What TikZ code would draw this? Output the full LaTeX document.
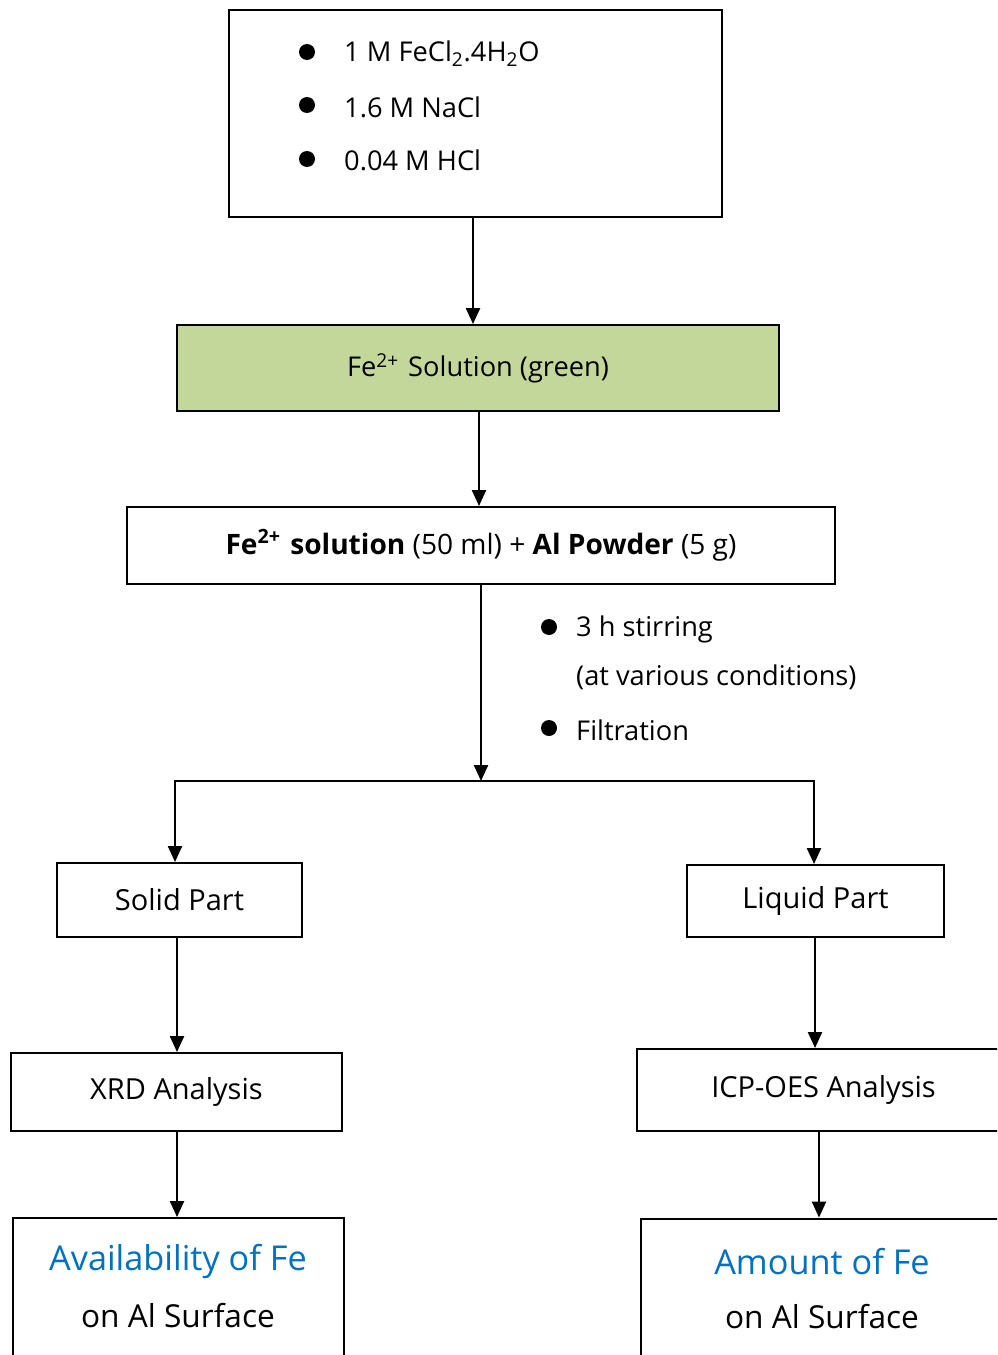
\documentclass[tikz,border=0pt]{standalone}
\usepackage{fontspec}
\setmainfont{Open Sans}
\usepackage{tikz}
\usetikzlibrary{arrows.meta}
\definecolor{solgreen}{RGB}{196,215,155}
\definecolor{resblue}{RGB}{0,112,192}
\tikzset{
  box/.style={draw, line width=1.1pt, inner sep=0pt},
  dot/.style={circle, fill, inner sep=0pt, minimum size=0.32cm},
  txt/.style={font=\fontsize{15.5}{18}\selectfont},
  lbl/.style={font=\fontsize{16.5}{19}\selectfont},
  res/.style={font=\fontsize{18}{22}\selectfont},
  resb/.style={font=\fontsize{19.5}{22}\selectfont, text=resblue},
  flow/.style={line width=1.3pt, -{Triangle[length=0.32cm,width=0.28cm]}},
}

\begin{document}
\begin{tikzpicture}[x=0.02cm,y=-0.02cm]
  \useasboundingbox (0,0) rectangle (997,1355);
  \clip (0,0) rectangle (997,1355);
  \node[box, minimum width=9.86cm, minimum height=4.14cm] (reag) at (475.5,113.5) {};
  \node[dot] (d1) at (307,52) {};
  \node[dot] (d2) at (307,105) {};
  \node[dot] (d3) at (307,159) {};
  \node[txt, anchor=west] (r1) at (338,54) {1 M FeCl\textsubscript{2}.4H\textsubscript{2}O};
  \node[txt, anchor=west] (r2) at (338,107) {1.6 M NaCl};
  \node[txt, anchor=west] (r3) at (338,160) {0.04 M HCl};
  \node[box, fill=solgreen, minimum width=12.04cm, minimum height=1.72cm, txt] (stock) at (478,368) {Fe\textsuperscript{2+}\,\,Solution (green)};
  \node[box, minimum width=14.16cm, minimum height=1.54cm, font=\fontsize{16}{19}\selectfont] (mixt) at (481,545.5) {\textbf{Fe\textsuperscript{2+}\,\,solution} (50 ml) + \textbf{Al Powder} (5 g)};
  \node[dot] (d4) at (549,627) {};
  \node[dot] (d5) at (549,728) {};
  \node[txt, anchor=west] (c1) at (570,629) {3 h stirring};
  \node[txt, anchor=west] (c2) at (570,677) {(at various conditions)};
  \node[txt, anchor=west] (c3) at (570,730) {Filtration};
  \coordinate (split) at (481,781);
  \coordinate (splitl) at (175,781);
  \coordinate (splitr) at (814,781);
  \node[box, minimum width=4.9cm, minimum height=1.48cm, lbl] (solid) at (179.5,900) {Solid Part};
  \node[box, minimum width=5.14cm, minimum height=1.44cm, lbl] (liquid) at (815.5,901) {Liquid Part};
  \node[box, minimum width=6.62cm, minimum height=1.56cm, lbl] (xrd) at (176.5,1092) {XRD Analysis};
  \node[box, minimum width=7.46cm, minimum height=1.64cm, lbl] (icp) at (823.5,1090) {ICP-OES Analysis};
  \node[box, minimum width=6.62cm, minimum height=4.04cm] (avail) at (178.5,1319) {};
  \node[box, minimum width=7.38cm, minimum height=4.04cm] (amount) at (825.5,1319.5) {};
  \node[resb] (avail1) at (178,1261) {Availability of Fe};
  \node[res] (avail2) at (178,1316) {on Al Surface};
  \node[resb] (amount1) at (822,1262) {Amount of Fe};
  \node[res] (amount2) at (822,1317) {on Al Surface};
  \draw[flow] (reag.south -| 473,0) -- (stock.north -| 473,0);
  \draw[flow] (stock.south -| 479,0) -- (mixt.north -| 479,0);
  \draw[flow] (mixt.south -| split) -- (split);
  \draw[flow, {Triangle[length=0.32cm,width=0.28cm]}-{Triangle[length=0.32cm,width=0.28cm]}] (splitl |- solid.north) -- (splitl) -- (splitr) -- (splitr |- liquid.north);
  \draw[flow] (solid.south -| 177,0) -- (xrd.north -| 177,0);
  \draw[flow] (liquid.south -| 815,0) -- (icp.north -| 815,0);
  \draw[flow] (xrd.south -| 177,0) -- (avail.north -| 177,0);
  \draw[flow] (icp.south -| 819,0) -- (amount.north -| 819,0);
\end{tikzpicture}
\end{document}
